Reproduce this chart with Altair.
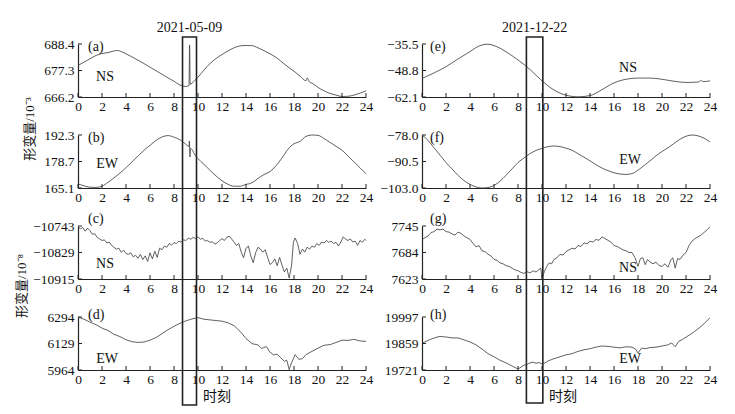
import altair as alt
import pandas as pd

SERIF = "Liberation Serif"
MIXED = "Liberation Serif, Noto Sans CJK SC"
XTICKS = list(range(0, 25, 2))
W, H = 288, 53

# ---------------- data ----------------
a_h = [0, 0.5, 1, 1.5, 2, 2.5, 3, 3.3, 3.5, 4, 4.5, 5, 5.5, 6, 6.5, 7, 7.5, 8, 8.5, 9.0, 9.25, 9.3, 9.35,
       9.5, 9.75, 10, 10.5, 11, 11.5, 12, 12.5, 13, 13.5, 14, 14.5, 15, 15.5, 16, 16.5, 17, 17.5, 18,
       18.5, 19.0, 19.1, 19.3, 19.5, 20, 20.5, 21, 21.5, 22, 22.5, 23, 23.5, 24]
a_v = [679.4, 680.8, 682.2, 683.6, 684.4, 684.8, 685.5, 685.7, 685.4, 684.3, 683.0, 681.6, 680.2, 678.7,
       677.2, 675.7, 674.2, 672.8, 671.2, 670.6, 671.0, 688.0, 671.5, 672.0, 673.2, 674.5, 677.5, 680.2,
       682.3, 684.0, 685.5, 686.8, 687.6, 687.8, 687.7, 686.8, 685.6, 684.3, 682.8, 680.8, 678.8, 677.0,
       675.0, 673.0, 674.2, 672.4, 672.0, 670.2, 668.8, 667.7, 667.0, 666.4, 666.5, 667.0, 667.8, 668.8]

b_h = [0, 0.5, 1, 1.5, 2, 2.5, 3, 3.5, 4, 4.5, 5, 5.5, 6, 6.5, 7, 7.5, 8, 8.5, 9.0, 9.25, 9.28, 9.33,
       9.38, 9.5, 9.75, 10, 10.5, 11, 11.5, 12, 12.5, 13, 13.5, 14, 14.3, 14.5, 15, 15.5, 16, 16.5, 17,
       17.5, 18, 18.5, 19, 19.5, 20, 20.5, 21, 21.5, 22, 22.5, 23, 23.5, 24]
b_v = [167.2, 166.2, 165.5, 165.4, 166.0, 168.0, 170.3, 172.8, 175.5, 178.5, 181.5, 184.5, 187.0, 189.5,
       191.3, 192.0, 191.2, 189.8, 187.5, 186.4, 189.2, 181.0, 185.5, 184.8, 182.0, 180.2, 177.2, 174.2,
       171.3, 168.8, 167.0, 166.0, 166.0, 167.0, 167.3, 167.8, 170.0, 172.0, 173.5, 176.5, 180.5, 185.0,
       187.8, 189.0, 191.6, 192.3, 192.1, 190.5, 188.5, 186.5, 184.5, 181.5, 178.5, 175.5, 172.4]

c_h = [0.0, 0.2, 0.4, 0.6, 0.8, 1.0, 1.2, 1.4, 1.6, 1.8, 2.0, 2.2, 2.4, 2.6, 2.8, 3.0, 3.2, 3.4, 3.6,
       3.8, 4.0, 4.2, 4.4, 4.6, 4.8, 5.0, 5.2, 5.4, 5.6, 5.8, 6.0, 6.2, 6.4, 6.6, 6.8, 7.0, 7.2, 7.4,
       7.6, 7.8, 8.0, 8.2, 8.4, 8.6, 8.8, 9.0, 9.2, 9.4, 9.6, 9.8, 10.0, 10.2, 10.4, 10.6, 10.8, 11.0,
       11.2, 11.4, 11.6, 11.8, 12.0, 12.2, 12.4, 12.6, 12.8, 13.0, 13.2, 13.4, 13.6, 13.8, 14.0, 14.2,
       14.4, 14.6, 14.8, 15.0, 15.2, 15.4, 15.6, 15.8, 16.0, 16.2, 16.4, 16.6, 16.8, 17.0, 17.2, 17.4,
       17.6, 17.8, 17.95, 18.1, 18.3, 18.5, 18.7, 18.9, 19.1, 19.3, 19.5, 19.7, 19.9, 20.1, 20.3, 20.5,
       20.7, 20.9, 21.1, 21.3, 21.5, 21.7, 21.9, 22.1, 22.3, 22.5, 22.7, 22.9, 23.1, 23.3, 23.5, 23.7,
       23.9, 24.0]
c_v = [-10745, -10752, -10748, -10760, -10750, -10758, -10770, -10768, -10780, -10785, -10790, -10788,
       -10798, -10795, -10806, -10812, -10818, -10815, -10828, -10822, -10832, -10835, -10830, -10843,
       -10838, -10848, -10835, -10852, -10840, -10858, -10830, -10850, -10825, -10845, -10815, -10820,
       -10808, -10812, -10800, -10805, -10797, -10800, -10792, -10795, -10788, -10790, -10782, -10786,
       -10780, -10784, -10778, -10786, -10783, -10792, -10790, -10796, -10794, -10802, -10798, -10790,
       -10784, -10790, -10780, -10776, -10785, -10795, -10806, -10800, -10828, -10846, -10815, -10808,
       -10840, -10862, -10830, -10812, -10818, -10828, -10820, -10845, -10868, -10862, -10850, -10872,
       -10845, -10870, -10892, -10880, -10912, -10870, -10795, -10782, -10800, -10835, -10818, -10828,
       -10812, -10818, -10808, -10812, -10800, -10806, -10795, -10798, -10790, -10796, -10792, -10800,
       -10796, -10808, -10795, -10778, -10786, -10790, -10785, -10795, -10792, -10806, -10790, -10796,
       -10786, -10790]

d_h = [0, 0.5, 1.0, 1.5, 2.0, 2.5, 3.0, 3.5, 4.0, 4.5, 5.0, 5.5, 6.0, 6.5, 7.0, 7.5, 8.0, 8.5, 9.0, 9.5,
       10.0, 10.5, 11.0, 11.5, 12.0, 12.5, 13.0, 13.5, 14.0, 14.5, 15.0, 15.3, 15.7, 16.0, 16.3, 16.6,
       16.9, 17.2, 17.4, 17.6, 17.8, 18.1, 18.4, 18.7, 19.0, 19.5, 20.0, 20.5, 21.0, 21.5, 22.0, 22.5,
       23.0, 23.5, 24.0]
d_v = [6294, 6280, 6262, 6246, 6225, 6210, 6186, 6172, 6152, 6140, 6136, 6138, 6150, 6166, 6190, 6215,
       6236, 6255, 6270, 6282, 6290, 6280, 6276, 6272, 6268, 6258, 6240, 6205, 6160, 6128, 6120, 6098,
       6110, 6075, 6058, 6062, 6040, 6018, 6025, 5966, 6010, 6060, 6030, 6035, 6060, 6080, 6100, 6118,
       6122, 6135, 6150, 6148, 6155, 6145, 6142]

e_h = [0, 1, 2, 3, 4, 4.5, 5, 5.5, 6, 6.5, 7, 8, 9, 10, 11, 12, 13, 14, 15, 16, 17, 18, 19, 20, 21, 22,
       23, 23.3, 23.4, 24]
e_v = [-52.8, -50.0, -46.9, -43.0, -39.3, -37.3, -36.0, -35.6, -36.3, -37.6, -39.4, -43.5, -48.3,
       -54.0, -58.6, -61.2, -62.0, -61.4, -58.4, -55.0, -53.2, -52.6, -52.6, -53.2, -54.2, -54.8,
       -54.6, -53.8, -54.4, -54.0]

f_h = [0, 0.5, 1, 1.5, 2, 2.5, 3, 3.5, 4, 4.5, 5, 5.5, 6, 6.5, 7, 7.5, 8, 8.5, 9, 9.5, 10, 10.5, 11,
       11.5, 12, 12.5, 13, 13.5, 14, 14.5, 15, 15.5, 16, 16.5, 17, 17.5, 18, 18.5, 19, 19.5, 20, 20.5,
       21, 21.5, 22, 22.5, 23, 23.5, 24]
f_v = [-78.0, -80.5, -84.0, -87.5, -91.0, -94.0, -97.0, -99.5, -101.3, -102.5, -103.0, -102.8, -101.8,
       -99.8, -97.0, -94.0, -91.0, -88.8, -86.8, -85.3, -84.3, -83.5, -83.2, -83.5, -84.2, -85.2,
       -86.8, -88.5, -90.2, -92.0, -93.6, -94.8, -95.8, -96.4, -96.6, -96.2, -94.6, -92.4, -90.2,
       -87.8, -85.8, -84.0, -82.0, -80.0, -78.6, -78.0, -78.4, -79.5, -81.3]

g_h = [0.0, 0.25, 0.5, 0.75, 1.0, 1.25, 1.5, 1.75, 2.0, 2.25, 2.5, 2.75, 3.0, 3.25, 3.5, 3.75, 4.0, 4.25,
       4.5, 4.75, 5.0, 5.25, 5.5, 5.75, 6.0, 6.25, 6.5, 6.75, 7.0, 7.25, 7.5, 7.75, 8.0, 8.25, 8.5, 8.75,
       9.0, 9.25, 9.5, 9.75, 9.9, 10.0, 10.2, 10.4, 10.6, 10.8, 11.0, 11.25, 11.5, 11.75, 12.0, 12.25,
       12.5, 12.75, 13.0, 13.25, 13.5, 13.75, 14.0, 14.25, 14.5, 14.75, 15.0, 15.25, 15.5, 15.75, 16.0,
       16.25, 16.5, 16.75, 17.0, 17.25, 17.5, 17.75, 18.0, 18.2, 18.4, 18.6, 18.8, 19.0, 19.25, 19.5,
       19.75, 20.0, 20.25, 20.5, 20.75, 20.9, 21.1, 21.3, 21.5, 21.75, 22.0, 22.25, 22.5, 22.75, 23.0,
       23.25, 23.5, 23.75, 24.0]
g_v = [7714, 7718, 7722, 7730, 7732, 7738, 7736, 7738, 7732, 7731, 7727, 7724, 7731, 7728, 7722, 7718,
       7714, 7705, 7697, 7700, 7688, 7686, 7680, 7676, 7668, 7666, 7660, 7658, 7654, 7652, 7648, 7644,
       7642, 7638, 7636, 7640, 7637, 7642, 7639, 7645, 7648, 7625, 7640, 7652, 7660, 7658, 7668, 7672,
       7680, 7678, 7686, 7690, 7694, 7692, 7700, 7698, 7706, 7704, 7710, 7708, 7714, 7712, 7720, 7716,
       7712, 7708, 7700, 7698, 7694, 7690, 7688, 7684, 7684, 7672, 7652, 7670, 7672, 7656, 7668, 7662,
       7658, 7662, 7654, 7652, 7658, 7650, 7668, 7672, 7648, 7670, 7668, 7678, 7684, 7700, 7710, 7716,
       7720, 7724, 7730, 7736, 7743]

h_h = [0.0, 0.25, 0.5, 0.75, 1.0, 1.25, 1.5, 1.75, 2.0, 2.5, 3.0, 3.5, 4.0, 4.5, 5.0, 5.5, 6.0, 6.5,
       7.0, 7.5, 8.0, 8.25, 8.5, 8.75, 9.0, 9.25, 9.5, 9.75, 10.0, 10.25, 10.5, 10.75, 11.0, 11.5, 12.0,
       12.5, 13.0, 13.5, 14.0, 14.5, 15.0, 15.5, 16.0, 16.5, 17.0, 17.5, 17.8, 18.0, 18.3, 18.6, 19.0,
       19.5, 20.0, 20.5, 20.8, 21.1, 21.4, 21.7, 22.0, 22.5, 23.0, 23.5, 24.0]
h_v = [19859, 19868, 19875, 19882, 19887, 19892, 19896, 19894, 19893, 19888, 19888, 19878, 19867, 19852,
       19830, 19806, 19790, 19772, 19758, 19742, 19726, 19736, 19746, 19750, 19758, 19762, 19756, 19760,
       19752, 19758, 19768, 19774, 19780, 19790, 19800, 19806, 19818, 19826, 19832, 19840, 19846, 19844,
       19840, 19836, 19842, 19840, 19830, 19810, 19835, 19832, 19838, 19840, 19846, 19852, 19862, 19842,
       19870, 19880, 19892, 19912, 19935, 19962, 19993]

# y-axis ticks shown on each panel (min, mid, max)
a_ticks = [666.2, 677.3, 688.4]
b_ticks = [165.1, 178.7, 192.3]
c_ticks = [-10915, -10829, -10743]
d_ticks = [5964, 6129, 6294]
e_ticks = [-62.1, -48.8, -35.5]
f_ticks = [-103.0, -90.5, -78.0]
g_ticks = [7623, 7684, 7745]
h_ticks = [19721, 19859, 19997]

# highlighted windows (hours) and their dates
win_left = [8.71, 9.875]
win_right = [8.7, 10.07]
date_left = "2021-05-09"
date_right = "2021-12-22"


def txt(s, x, y, size=14, align="left", font=SERIF, angle=0):
    mk = dict(font=font, fontSize=size, align=align, baseline="middle", color="#111")
    if angle:
        mk["angle"] = angle
    return alt.Chart(pd.DataFrame({"t": [s]})).mark_text(**mk).encode(
        x=alt.value(x), y=alt.value(y), text="t:N")


def panel(hours, values, yt, fmt, letter, lxy, comp, cxy, extra=(), interp="monotone"):
    xenc = alt.X("h:Q", scale=alt.Scale(domain=[0, 24], nice=False),
                 axis=alt.Axis(values=XTICKS, format="d", title="", ticks=False, labelPadding=2,
                               labelFlush=False, labelOverlap=False))
    yenc = alt.Y("v:Q", scale=alt.Scale(domain=[yt[0], yt[2]], nice=False, zero=False),
                 axis=alt.Axis(values=yt, format=fmt, title="", ticks=False, labelPadding=4,
                               labelFlush=False, labelOverlap=False))
    df = pd.DataFrame({"h": hours, "v": values})
    line = alt.Chart(df).mark_line(color="#3a3a3a", strokeWidth=0.8, interpolate=interp).encode(
        x=xenc, y=yenc)
    xt = alt.Chart(pd.DataFrame({"h": XTICKS})).mark_rule(color="#222", strokeWidth=1).encode(
        x=xenc, y=alt.value(H), y2=alt.value(H - 4))
    ytk = alt.Chart(pd.DataFrame({"v": yt})).mark_rule(color="#222", strokeWidth=1).encode(
        y=yenc, x=alt.value(0), x2=alt.value(4))
    layers = [line, xt, ytk, txt(letter, lxy[0], lxy[1]), txt(comp, cxy[0], cxy[1], align="center")]
    for e in extra:
        layers.append(e(xenc))
    return alt.layer(*layers).properties(width=W, height=H)


def window(win, date, bottom):
    def make(xenc):
        wdf = pd.DataFrame({"h": [win[0]], "h2": [win[1]]})
        rect = alt.Chart(wdf).mark_rect(fill="transparent", stroke="#222", strokeWidth=1.6).encode(
            x=xenc, x2="h2:Q", y=alt.value(-7), y2=alt.value(bottom))
        ddf = pd.DataFrame({"h": [(win[0] + win[1]) / 2], "t": [date]})
        lab = alt.Chart(ddf).mark_text(font=SERIF, fontSize=14, baseline="middle", color="#111").encode(
            x=xenc, y=alt.value(-16), text="t:N")
        return alt.layer(rect, lab)
    return make


def ylab(s, x, y):
    return lambda xenc: txt(s, x, y, size=13, align="center", font=MIXED, angle=270)


def xlab(s, x, y):
    return lambda xenc: txt(s, x, y, size=14, align="center", font=MIXED)


pa = panel(a_h, a_v, a_ticks, ".1f", "(a)", (10, 3), "NS", (27, 33),
           [window(win_left, date_left, 361), ylab("形变量/10⁻³", -48, 85)])
pb = panel(b_h, b_v, b_ticks, ".1f", "(b)", (10, 3), "EW", (29, 29))
pc = panel(c_h, c_v, c_ticks, "d", "(c)", (10, -7), "NS", (27, 38),
           [ylab("形变量/10⁻⁸", -56, 60)], interp="linear")
pd_ = panel(d_h, d_v, d_ticks, "d", "(d)", (10, -2), "EW", (29, 42), [xlab("时刻", 139, 80)],
            interp="linear")
pe = panel(e_h, e_v, e_ticks, ".1f", "(e)", (8, 3), "NS", (206, 24),
           [window(win_right, date_right, 359)])
pf = panel(f_h, f_v, f_ticks, ".1f", "(f)", (8, 3), "EW", (208, 25))
pg = panel(g_h, g_v, g_ticks, "d", "(g)", (8, -7), "NS", (206, 42), interp="linear")
ph = panel(h_h, h_v, h_ticks, "d", "(h)", (8, -2), "EW", (208, 42), [xlab("时刻", 141, 80)],
           interp="linear")

chart = alt.concat(pa, pe, pb, pf, pc, pg, pd_, ph, columns=2,
                   spacing={"row": 38, "column": 56}, bounds="flush").properties(
    padding={"left": 8, "top": 13, "right": 5, "bottom": 5}
).configure_view(strokeWidth=0).configure_axis(
    grid=False, domainColor="#222", domainWidth=1.2, labelFont=SERIF, labelFontSize=13.5,
    labelColor="#111"
)

chart.save("out.html", embed_options={"renderer": "svg", "actions": False})
